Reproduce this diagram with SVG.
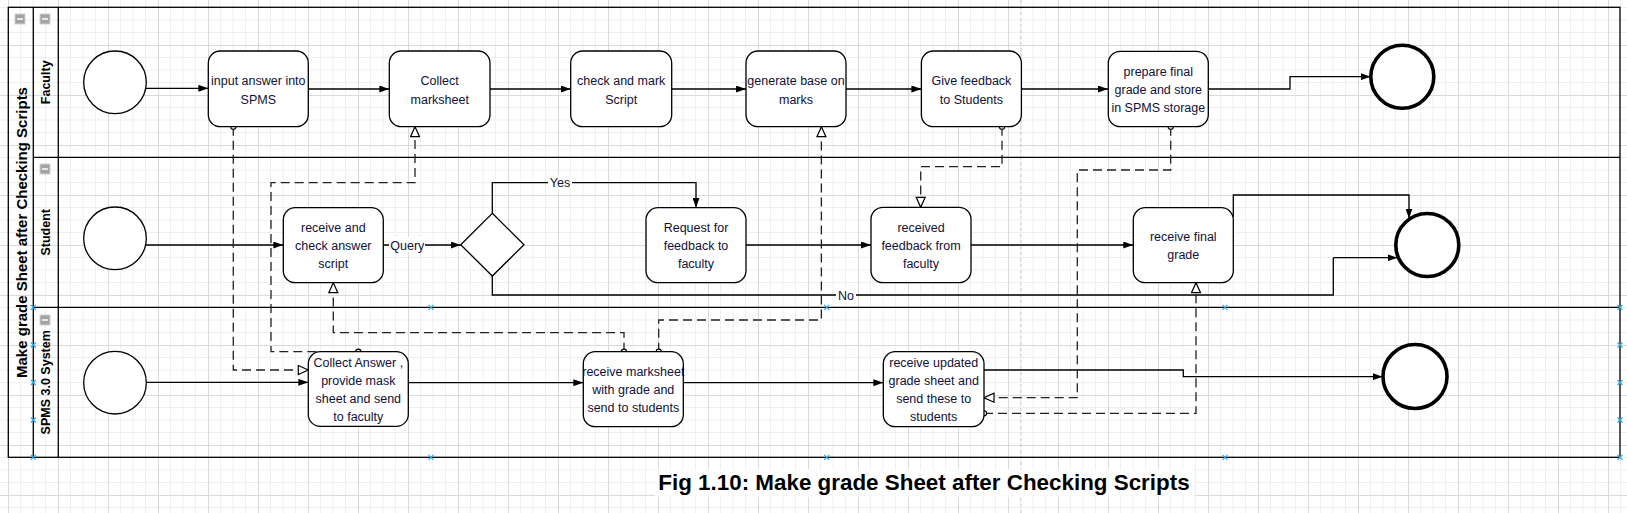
<svg xmlns="http://www.w3.org/2000/svg" width="1627" height="513" viewBox="0 0 1627 513">
<style>
.box{fill:#fff;stroke:#000;stroke-width:1.3}
.start{fill:#fff;stroke:#000;stroke-width:1.3}
.end{fill:#fff;stroke:#000;stroke-width:3.6}
.t{font-family:"Liberation Sans",Arial,sans-serif;font-size:12.5px;fill:#10103a;text-anchor:middle}
.lane{font-family:"Liberation Sans",Arial,sans-serif;font-size:12.5px;font-weight:bold;fill:#000;text-anchor:middle}
.pool{font-family:"Liberation Sans",Arial,sans-serif;font-size:15px;font-weight:bold;fill:#000;text-anchor:middle}
.cap{font-family:"Liberation Sans",Arial,sans-serif;font-size:22.4px;font-weight:bold;fill:#000}
.flow{fill:none;stroke:#000;stroke-width:1.3;marker-end:url(#arr)}
.plain{fill:none;stroke:#000;stroke-width:1.3}
.msg{fill:none;stroke:#222;stroke-width:1.3;stroke-dasharray:9 5;marker-start:url(#dot);marker-end:url(#tri)}
.border{fill:none;stroke:#000;stroke-width:1.3}
.xm{stroke:#2eaae6;stroke-width:1.2}
.ico{fill:#a3a3a3;stroke:#cfcfcf;stroke-width:1}
</style>
<defs>
<pattern id="grid" width="50" height="50" patternUnits="userSpaceOnUse" x="8" y="45">
<path d="M12.5 0V50M25 0V50M37.5 0V50M0 12.5H50M0 25H50M0 37.5H50" stroke="#efefef" stroke-width="1" fill="none"/>
<path d="M0.5 0V50M0 0.5H50" stroke="#dadada" stroke-width="1" fill="none"/>
</pattern>
<marker id="arr" viewBox="0 0 10 7" refX="10" refY="3.5" markerWidth="10" markerHeight="7" markerUnits="userSpaceOnUse" orient="auto"><path d="M0,0L10,3.5L0,7z" fill="#000"/></marker>
<marker id="tri" viewBox="-1 -1 12 11" refX="10" refY="4.5" markerWidth="12" markerHeight="11" markerUnits="userSpaceOnUse" orient="auto"><path d="M0,0L10,4.5L0,9z" fill="#fff" stroke="#000" stroke-width="1.2"/></marker>
<marker id="dot" viewBox="-4 -4 8 8" refX="0" refY="0" markerWidth="8" markerHeight="8" markerUnits="userSpaceOnUse"><circle r="2.6" fill="#fff" stroke="#000" stroke-width="1.1"/></marker>
<g id="xmark"><path d="M-2.5-2.5L2.5 2.5M-2.5 2.5L2.5-2.5"/></g>
</defs>
<rect width="1627" height="513" fill="#fff"/>
<rect width="1627" height="513" fill="url(#grid)"/>
<!-- page break -->
<line x1="1021" y1="0" x2="1021" y2="513" stroke="#c8c8c8" stroke-width="1" stroke-dasharray="3 3"/>

<g id="pool">
<rect x="8.3" y="7.3" width="1611.7" height="450" class="border"/>
<line x1="33.3" y1="7.3" x2="33.3" y2="457.3" class="border"/>
<line x1="58.3" y1="7.3" x2="58.3" y2="457.3" class="border"/>
<line x1="33.3" y1="157.3" x2="1620" y2="157.3" class="border"/>
<line x1="33.3" y1="307.3" x2="1620" y2="307.3" class="border"/>
<text class="pool" transform="translate(26.5,232.5) rotate(-90)">Make grade Sheet after Checking Scripts</text>
<rect x="15" y="14" width="10" height="10" class="ico"/><line x1="17" y1="19" x2="23" y2="19" stroke="#fff" stroke-width="1.5"/>
</g>
<g id="lane-faculty">
<rect x="40" y="14" width="10" height="10" class="ico"/><line x1="42" y1="19" x2="48" y2="19" stroke="#fff" stroke-width="1.5"/>
<text class="lane" transform="translate(49.5,82.3) rotate(-90)">Faculty</text>
</g>
<g id="lane-student">
<rect x="40" y="164" width="10" height="10" class="ico"/><line x1="42" y1="169" x2="48" y2="169" stroke="#fff" stroke-width="1.5"/>
<text class="lane" transform="translate(49.5,232.3) rotate(-90)">Student</text>
</g>
<g id="lane-system">
<rect x="40" y="315" width="10" height="10" class="ico"/><line x1="42" y1="320" x2="48" y2="320" stroke="#fff" stroke-width="1.5"/>
<text class="lane" transform="translate(49.5,382.3) rotate(-90)">SPMS 3.0 System</text>
</g>

<g id="markers" class="xm">
<use href="#xmark" x="33.3" y="307.3"/><use href="#xmark" x="33.3" y="345"/><use href="#xmark" x="33.3" y="382.5"/><use href="#xmark" x="33.3" y="420"/><use href="#xmark" x="33.3" y="457.3"/>
<use href="#xmark" x="431" y="307.3"/><use href="#xmark" x="431" y="457.3"/>
<use href="#xmark" x="826.7" y="307.3"/><use href="#xmark" x="826.7" y="457.3"/>
<use href="#xmark" x="1225" y="307.3"/><use href="#xmark" x="1225" y="457.3"/>
<use href="#xmark" x="1620" y="307.3"/><use href="#xmark" x="1620" y="345"/><use href="#xmark" x="1620" y="382.5"/><use href="#xmark" x="1620" y="420"/><use href="#xmark" x="1620" y="457.3"/>
</g>

<g id="connectors">
<!-- faculty sequence -->
<path class="flow" d="M146 88.3H208.3"/>
<path class="flow" d="M308.3 89H389.3"/>
<path class="flow" d="M490 89H570.7"/>
<path class="flow" d="M671.7 89H746"/>
<path class="flow" d="M846 89H921.4"/>
<path class="flow" d="M1021.4 89H1108"/>
<path class="flow" d="M1208.3 89H1290V76.7H1370.6"/>
<!-- student sequence -->
<path class="flow" d="M146 245H283.3"/>
<path class="flow" d="M383.3 245H460.7"/>
<path class="flow" d="M492.3 213.3V182.7H696V207.7"/>
<path class="plain" d="M492.3 276V295H1333.3V257.7"/>
<path class="flow" d="M1333.3 257.7H1397.5"/>
<path class="flow" d="M746 245H871"/>
<path class="flow" d="M971 245H1133.3"/>
<path class="flow" d="M1233.3 216.7V195H1409V218.5"/>
<!-- system sequence -->
<path class="flow" d="M146 382.3H308.3"/>
<path class="flow" d="M408.3 382.7H583.3"/>
<path class="flow" d="M683.3 382.7H883.3"/>
<path class="flow" d="M984 370H1183.3V376.7H1382.7"/>
<!-- message flows -->
<path class="msg" d="M233.3 126.7V370H308.3"/>
<path class="msg" d="M358.3 351.7H271V182.7H415V126.7"/>
<path class="msg" d="M624 351.7V332.7H333.3V282.7"/>
<path class="msg" d="M658.7 351.7V320H821.4V126.7"/>
<path class="msg" d="M1002 126.7V166.7H920.7V207.3"/>
<path class="msg" d="M1170.7 126.7V170H1077.3V397.7H984"/>
<path class="msg" d="M984 413.3H1196V282.7"/>
<!-- labels -->
<rect x="389" y="237" width="36" height="15" fill="#fff"/>
<text class="t" x="407.3" y="249.5">Query</text>
<rect x="548" y="175" width="24" height="15" fill="#fff"/>
<text class="t" x="560" y="187.2">Yes</text>
<rect x="836" y="288" width="20" height="15" fill="#fff"/>
<text class="t" x="846" y="299.5">No</text>
</g>

<g id="start-faculty"><circle cx="115" cy="82.3" r="31.3" class="start"/></g>
<g id="input-answer"><rect x="208.3" y="51" width="100" height="75.7" rx="12" class="box"/><text class="t" x="258.3"><tspan x="258.3" y="85.2">input answer into</tspan><tspan x="258.3" y="103.5">SPMS</tspan></text></g>
<g id="collect-marksheet"><rect x="389.3" y="51" width="100.7" height="75.7" rx="12" class="box"/><text class="t"><tspan x="439.7" y="85.2">Collect</tspan><tspan x="439.7" y="103.5">marksheet</tspan></text></g>
<g id="check-mark"><rect x="570.7" y="51" width="101" height="75.7" rx="12" class="box"/><text class="t"><tspan x="621.2" y="85.2">check and mark</tspan><tspan x="621.2" y="103.5">Script</tspan></text></g>
<g id="generate"><rect x="746" y="51" width="100" height="75.7" rx="12" class="box"/><text class="t"><tspan x="796" y="85.2">generate base on</tspan><tspan x="796" y="103.5">marks</tspan></text></g>
<g id="give-feedback"><rect x="921.4" y="51" width="100" height="75.7" rx="12" class="box"/><text class="t"><tspan x="971.4" y="85.2">Give feedback</tspan><tspan x="971.4" y="103.5">to Students</tspan></text></g>
<g id="prepare-final"><rect x="1108.3" y="51.3" width="100" height="75.4" rx="12" class="box"/><text class="t"><tspan x="1158.3" y="76.2">prepare final</tspan><tspan x="1158.3" y="94.3">grade and store</tspan><tspan x="1158.3" y="112.3">in SPMS storage</tspan></text></g>
<g id="end-faculty"><circle cx="1402.3" cy="76.7" r="31.5" class="end"/></g>

<g id="start-student"><circle cx="115" cy="238.3" r="31.3" class="start"/></g>
<g id="receive-check"><rect x="283.3" y="207.7" width="100" height="75" rx="12" class="box"/><text class="t"><tspan x="333.3" y="232.2">receive and</tspan><tspan x="333.3" y="250.2">check answer</tspan><tspan x="333.3" y="268.2">script</tspan></text></g>
<g id="gateway"><path d="M492.3 213.3L524 244.7L492.3 276L460.7 244.7Z" class="box"/></g>
<g id="request-feedback"><rect x="646" y="207.7" width="100" height="75" rx="12" class="box"/><text class="t"><tspan x="696" y="232.2">Request for</tspan><tspan x="696" y="250.2">feedback to</tspan><tspan x="696" y="268.2">faculty</tspan></text></g>
<g id="received-feedback"><rect x="871" y="207.3" width="100" height="75.4" rx="12" class="box"/><text class="t"><tspan x="921" y="232.2">received</tspan><tspan x="921" y="250.2">feedback from</tspan><tspan x="921" y="268.2">faculty</tspan></text></g>
<g id="receive-final"><rect x="1133.3" y="207.7" width="100" height="75" rx="12" class="box"/><text class="t"><tspan x="1183.3" y="241.2">receive final</tspan><tspan x="1183.3" y="259.2">grade</tspan></text></g>
<g id="end-student"><circle cx="1427.3" cy="245" r="31.5" class="end"/></g>

<g id="start-system"><circle cx="115" cy="382.7" r="31.3" class="start"/></g>
<g id="collect-answer"><rect x="308.3" y="351.7" width="100" height="74.7" rx="12" class="box"/><text class="t"><tspan x="358.3" y="367.2">Collect Answer ,</tspan><tspan x="358.3" y="385.2">provide mask</tspan><tspan x="358.3" y="403.2">sheet and send</tspan><tspan x="358.3" y="421.2">to faculty</tspan></text></g>
<g id="receive-marksheet"><rect x="583.3" y="351.7" width="100" height="75" rx="12" class="box"/><text class="t"><tspan x="633.3" y="376.2">receive marksheet</tspan><tspan x="633.3" y="394.2">with grade and</tspan><tspan x="633.3" y="412.2">send to students</tspan></text></g>
<g id="receive-updated"><rect x="883.3" y="351.7" width="100.7" height="75" rx="12" class="box"/><text class="t"><tspan x="933.7" y="367.2">receive updated</tspan><tspan x="933.7" y="385.2">grade sheet and</tspan><tspan x="933.7" y="403.2">send these to</tspan><tspan x="933.7" y="421.2">students</tspan></text></g>
<g id="end-system"><circle cx="1415" cy="376.5" r="32" class="end"/></g>

<g id="caption">
<rect x="655" y="469" width="540" height="28" fill="#fff" opacity="0.85"/>
<text class="cap" x="658.3" y="490">Fig 1.10: Make grade Sheet after Checking Scripts</text>
</g>
</svg>
